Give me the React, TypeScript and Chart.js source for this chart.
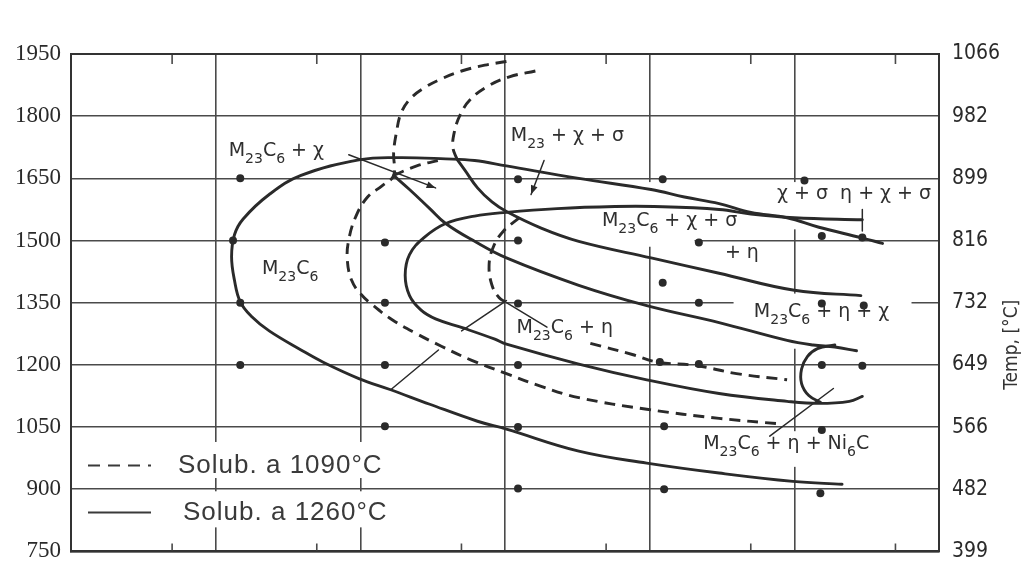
import React, { useEffect, useRef } from "react";
import { Chart, registerables } from "chart.js";

Chart.register(...registerables);

type Pt = [number, number];

// ---- axes -------------------------------------------------------------
// x: log10(time) in decades (grid only, unlabelled); y: temperature in °F (left) / °C (right)
const timeDecades = [0, 1, 2, 3, 4, 5, 6];
const tempTicksF = [750, 900, 1050, 1200, 1350, 1500, 1650, 1800, 1950];
const tempTicksC = [399, 482, 566, 649, 732, 816, 899, 982, 1066];

// ---- solid curves (Solub. a 1260°C) -------------------------------------
const curveM23C6: Pt[] = [
  [5.61, 1493], [5.46, 1507], [5.17, 1532], [4.95, 1555], [4.7, 1568], [4.48, 1589],
  [4.24, 1605], [4.01, 1623], [3.51, 1650], [3.01, 1680], [2.79, 1693], [2.59, 1697],
  [2.26, 1700], [2.0, 1695], [1.59, 1657], [1.37, 1611], [1.19, 1552], [1.13, 1514],
  [1.11, 1461], [1.13, 1404], [1.17, 1352], [1.25, 1316], [1.37, 1282], [1.59, 1236],
  [1.74, 1207], [1.99, 1167], [2.21, 1140], [2.48, 1105], [2.81, 1064], [3.01, 1045],
  [3.51, 992], [3.98, 963], [4.48, 939], [4.99, 919], [5.33, 912],
];
const curveChiSigma: Pt[] = [
  [5.47, 1550], [5.0, 1555], [4.7, 1564], [4.48, 1575], [4.03, 1582], [3.76, 1582],
  [3.36, 1577], [3.01, 1568], [2.79, 1559], [2.59, 1541], [2.44, 1507], [2.34, 1466],
  [2.31, 1416], [2.34, 1367], [2.42, 1332], [2.52, 1311], [2.71, 1289], [2.93, 1262],
  [3.01, 1250], [3.51, 1202], [3.98, 1164], [4.48, 1131], [4.95, 1112], [5.17, 1107],
  [5.38, 1112], [5.47, 1124],
];
const curveSigmaEta: Pt[] = [
  [2.67, 1695], [2.72, 1671], [2.81, 1627], [2.91, 1593], [3.01, 1570], [3.25, 1530],
  [3.51, 1498], [4.01, 1458], [4.48, 1421], [5.0, 1380], [5.46, 1367],
];
const curveEtaChi: Pt[] = [
  [2.23, 1657], [2.34, 1623], [2.48, 1577], [2.59, 1541], [2.79, 1498], [3.01, 1458],
  [3.51, 1392], [3.98, 1343], [4.48, 1302], [4.95, 1259], [5.13, 1248], [5.28, 1243],
  [5.43, 1234],
];
const curveNi6C: Pt[] = [
  [5.28, 1248], [5.16, 1239], [5.09, 1220], [5.05, 1190], [5.05, 1155], [5.1, 1126], [5.18, 1110],
];

// ---- dashed curves (Solub. a 1090°C) ------------------------------------
const dashOuter: Pt[] = [
  [3.01, 1932], [2.86, 1923], [2.7, 1909], [2.56, 1890], [2.44, 1868], [2.34, 1840],
  [2.28, 1806], [2.25, 1762], [2.23, 1712], [2.23, 1657], [2.15, 1632], [2.05, 1605],
  [1.97, 1559], [1.92, 1502], [1.91, 1453], [1.94, 1404], [2.0, 1372], [2.09, 1343],
  [2.22, 1309], [2.39, 1275], [2.56, 1245], [2.77, 1211], [3.01, 1179], [3.25, 1148],
  [3.51, 1121], [3.98, 1093], [4.48, 1071], [4.92, 1057],
];
const dashInner: Pt[] = [
  [3.21, 1909], [3.03, 1895], [2.88, 1872], [2.76, 1840], [2.69, 1803], [2.65, 1762],
  [2.64, 1724], [2.67, 1695],
];
const dashSpur: Pt[] = [[2.23, 1657], [2.39, 1680], [2.56, 1695]];
const dashEtaUpper: Pt[] = [
  [3.1, 1555], [2.99, 1523], [2.92, 1485], [2.89, 1441], [2.91, 1392], [2.96, 1362], [3.01, 1350],
];
const dashEtaLower: Pt[] = [
  [3.59, 1252], [3.88, 1225], [4.05, 1207], [4.33, 1198], [4.6, 1179], [4.95, 1164],
];

// ---- thin tie lines / pointers -----------------------------------------
const tieLow: Pt[] = [[2.21, 1140], [2.54, 1236]];
const tieMid: Pt[] = [[2.7, 1282], [3.01, 1355]];
const pointerEta: Pt[] = [[3.01, 1350], [3.29, 1291]];
const pointerSigma: Pt[] = [[3.27, 1693], [3.18, 1611]];
const pointerNi: Pt[] = [[4.83, 1028], [5.27, 1143]];
const pointerChi: Pt[] = [[1.92, 1707], [2.52, 1627]];
const crossMark: Pt[] = [[5.47, 1575], [5.47, 1523]];

// ---- experimental points -----------------------------------------------
const samplePoints: Pt[] = [
  [1.17, 1650], [3.09, 1648], [4.09, 1648], [5.07, 1645],
  [1.12, 1500], [2.17, 1495], [3.09, 1500], [4.34, 1495], [5.19, 1511], [5.47, 1507],
  [4.09, 1398],
  [1.17, 1350], [2.17, 1350], [3.09, 1348], [4.34, 1350], [5.19, 1348], [5.48, 1343],
  [1.17, 1200], [2.17, 1200], [3.09, 1200], [4.07, 1207], [4.34, 1202], [5.19, 1200], [5.47, 1198],
  [2.17, 1052], [3.09, 1050], [4.1, 1052], [5.19, 1043],
  [3.09, 902], [4.1, 900], [5.18, 890],
];

// ---- region labels (x decade, y °F, segments: [text, subscript?]) -------
type Seg = [string, number?];
const regionLabels: { x: number; y: number; segs: Seg[] }[] = [
  { x: 1.09, y: 1717, segs: [["M"], ["23", 1], ["C"], ["6", 1], [" + χ"]] },
  { x: 1.32, y: 1431, segs: [["M"], ["23", 1], ["C"], ["6", 1]] },
  { x: 3.04, y: 1752, segs: [["M"], ["23", 1], [" + χ + σ"]] },
  { x: 3.67, y: 1548, segs: [["M"], ["23", 1], ["C"], ["6", 1], [" + χ + σ"]] },
  { x: 4.52, y: 1470, segs: [["+ η"]] },
  { x: 4.88, y: 1611, segs: [["χ + σ  η + χ + σ"]] },
  { x: 3.08, y: 1289, segs: [["M"], ["23", 1], ["C"], ["6", 1], [" + η"]] },
  { x: 4.72, y: 1327, segs: [["M"], ["23", 1], ["C"], ["6", 1], [" + η + χ"]] },
  { x: 4.37, y: 1009, segs: [["M"], ["23", 1], ["C"], ["6", 1], [" + η + Ni"], ["6", 1], ["C"]] },
];

// areas where the original grid is interrupted by lettering [x0, x1, y0, y1]
const gridGaps: [number, number, number, number][] = [
  [3.12, 4.31, 1514, 1485],
  [3.96, 4.04, 1641, 1490],
  [4.58, 5.81, 1367, 1334],
  [4.96, 5.04, 1372, 1239],
  [4.96, 5.04, 1641, 1527],
  [4.96, 5.04, 1040, 954],
  [0.014, 2.24, 1014, 927],
  [0.014, 2.24, 895, 808],
];

const legendItems = [
  { text: "Solub. a 1090°C", dashed: true },
  { text: "Solub. a 1260°C", dashed: false },
];

const INK = "#2a2a2a";
const GRID = "#4a4a4a";
const fToC = (f: number) => ((f - 32) * 5) / 9;

const toXY = (pts: Pt[]) => pts.map(([x, y]) => ({ x, y }));
const solid = (pts: Pt[]) => ({
  data: toXY(pts),
  showLine: true,
  borderColor: INK,
  borderWidth: 2.9,
  pointRadius: 0,
  tension: 0.4,
  fill: false,
  borderCapStyle: "round" as const,
});
const dashed = (pts: Pt[]) => ({ ...solid(pts), borderDash: [11, 7], borderCapStyle: "butt" as const });
const thin = (pts: Pt[]) => ({ ...solid(pts), borderWidth: 1.5, tension: 0 });

function drawRich(ctx: CanvasRenderingContext2D, x: number, y: number, segs: Seg[], size: number) {
  let cx = x;
  for (const [t, sub] of segs) {
    const fs = sub ? Math.round(size * 0.74) : size;
    ctx.font = `${fs}px "DejaVu Sans", sans-serif`;
    ctx.fillText(t, cx, sub ? y + size * 0.45 : y);
    cx += ctx.measureText(t).width;
  }
}

function arrowHead(ctx: CanvasRenderingContext2D, x0: number, y0: number, x1: number, y1: number) {
  const a = Math.atan2(y1 - y0, x1 - x0);
  const len = 9;
  const w = 3.5;
  ctx.beginPath();
  ctx.moveTo(x1, y1);
  ctx.lineTo(x1 - len * Math.cos(a) + w * Math.sin(a), y1 - len * Math.sin(a) - w * Math.cos(a));
  ctx.lineTo(x1 - len * Math.cos(a) - w * Math.sin(a), y1 - len * Math.sin(a) + w * Math.cos(a));
  ctx.closePath();
  ctx.fill();
}

const decor = {
  id: "decor",
  beforeDraw(chart: any) {
    const { ctx, width, height } = chart;
    ctx.save();
    ctx.fillStyle = "#ffffff";
    ctx.fillRect(0, 0, width, height);
    ctx.restore();
  },
  beforeDatasetsDraw(chart: any) {
    const { ctx, chartArea: a } = chart;
    const xs = chart.scales.x;
    const ys = chart.scales.y;
    ctx.save();
    ctx.fillStyle = "#ffffff";
    for (const [x0, x1, y0, y1] of gridGaps) {
      const px0 = xs.getPixelForValue(x0);
      const px1 = xs.getPixelForValue(x1);
      const py0 = ys.getPixelForValue(y0);
      const py1 = ys.getPixelForValue(y1);
      ctx.fillRect(Math.min(px0, px1), Math.min(py0, py1), Math.abs(px1 - px0), Math.abs(py1 - py0));
    }
    ctx.strokeStyle = GRID;
    ctx.lineWidth = 1.6;
    for (const d of timeDecades.slice(0, -1)) {
      const px = xs.getPixelForValue(d + Math.log10(5));
      ctx.beginPath();
      ctx.moveTo(px, a.top);
      ctx.lineTo(px, a.top + 10);
      ctx.moveTo(px, a.bottom);
      ctx.lineTo(px, a.bottom - 8);
      ctx.stroke();
    }
    ctx.restore();
  },
  afterDatasetsDraw(chart: any) {
    const { ctx, chartArea: a } = chart;
    const xs = chart.scales.x;
    const ys = chart.scales.y;
    ctx.save();
    ctx.fillStyle = "#2f2f2f";
    ctx.textBaseline = "middle";
    ctx.textAlign = "left";
    for (const l of regionLabels) {
      drawRich(ctx, xs.getPixelForValue(l.x), ys.getPixelForValue(l.y), l.segs, 19);
    }
    // arrowheads on pointers
    ctx.fillStyle = INK;
    for (const p of [pointerSigma, pointerChi]) {
      arrowHead(
        ctx,
        xs.getPixelForValue(p[0][0]), ys.getPixelForValue(p[0][1]),
        xs.getPixelForValue(p[1][0]), ys.getPixelForValue(p[1][1])
      );
    }
    // legend
    const rows = [a.bottom - 86, a.bottom - 39];
    legendItems.forEach((it, i) => {
      const yy = rows[i];
      ctx.strokeStyle = "#3a3a3a";
      ctx.lineWidth = 2;
      ctx.setLineDash(it.dashed ? [12, 8] : []);
      ctx.beginPath();
      ctx.moveTo(a.left + 17, yy);
      ctx.lineTo(a.left + 80, yy);
      ctx.stroke();
      ctx.setLineDash([]);
      ctx.fillStyle = "#3a3a3a";
      ctx.font = '26px "Liberation Sans", Arial, sans-serif';
      (ctx as any).letterSpacing = "1px";
      ctx.fillText(it.text, a.left + (it.dashed ? 107 : 112), yy);
      (ctx as any).letterSpacing = "0px";
    });
    ctx.restore();
  },
  afterDraw(chart: any) {
    const { ctx, chartArea: a } = chart;
    ctx.save();
    ctx.strokeStyle = "#333";
    ctx.lineWidth = 2;
    ctx.strokeRect(a.left, a.top, a.right - a.left, a.bottom - a.top);
    ctx.translate(a.right + 73, (a.top + a.bottom) / 2 + 42);
    ctx.rotate(-Math.PI / 2);
    ctx.fillStyle = "#333";
    ctx.textAlign = "center";
    ctx.textBaseline = "middle";
    ctx.font = '19px "Liberation Sans Narrow", "DejaVu Sans Condensed", "Liberation Sans", sans-serif';
    ctx.fillText("Temp, [°C]", 0, 0);
    ctx.restore();
  },
};

export default function App() {
  const ref = useRef<HTMLCanvasElement | null>(null);

  useEffect(() => {
    if (!ref.current) return;
    const chart = new Chart(ref.current, {
      type: "scatter",
      data: {
        datasets: [
          solid(curveM23C6),
          solid(curveChiSigma),
          solid(curveSigmaEta),
          solid(curveEtaChi),
          solid(curveNi6C),
          dashed(dashOuter),
          dashed(dashInner),
          dashed(dashSpur),
          dashed(dashEtaUpper),
          dashed(dashEtaLower),
          thin(tieLow),
          thin(tieMid),
          thin(pointerEta),
          thin(pointerSigma),
          thin(pointerNi),
          thin(pointerChi),
          thin(crossMark),
          {
            data: toXY(samplePoints),
            showLine: false,
            pointRadius: 4,
            pointBackgroundColor: INK,
            pointBorderWidth: 0,
          },
        ] as any,
      },
      options: {
        animation: false,
        responsive: false,
        events: [],
        layout: { padding: { top: 54, bottom: 19, left: 0, right: 0 } },
        plugins: { legend: { display: false }, tooltip: { enabled: false } },
        scales: {
          x: {
            type: "linear",
            min: timeDecades[0],
            max: timeDecades[timeDecades.length - 1],
            afterBuildTicks: (s: any) => {
              s.ticks = timeDecades.map((v) => ({ value: v }));
            },
            ticks: { display: false },
            grid: { color: GRID, lineWidth: 1.6, drawTicks: false },
            border: { display: true, color: "#333", width: 2 },
            afterFit: (s: any) => {
              s.height = 0;
            },
          },
          y: {
            position: "left",
            min: tempTicksF[0],
            max: tempTicksF[tempTicksF.length - 1],
            afterBuildTicks: (s: any) => {
              s.ticks = tempTicksF.map((v) => ({ value: v }));
            },
            ticks: {
              color: "#2a2a2a",
              padding: 10,
              font: { family: '"Liberation Serif", serif', size: 23 },
              callback: (_v: any, i: number) => String(tempTicksF[i]),
            },
            grid: { color: GRID, lineWidth: 1.6, drawTicks: false },
            border: { display: true, color: "#333", width: 2 },
            afterFit: (s: any) => {
              s.width = 71;
            },
          },
          y2: {
            position: "right",
            min: fToC(tempTicksF[0]),
            max: fToC(tempTicksF[tempTicksF.length - 1]),
            afterBuildTicks: (s: any) => {
              s.ticks = tempTicksF.map((f) => ({ value: fToC(f) }));
            },
            ticks: {
              color: "#2a2a2a",
              padding: 13,
              font: { family: '"Liberation Sans Narrow", "DejaVu Sans Condensed", "Liberation Sans", sans-serif', size: 21 },
              callback: (_v: any, i: number) => String(tempTicksC[i]),
            },
            grid: { display: false, drawTicks: false },
            border: { display: false },
            afterFit: (s: any) => {
              s.width = 87;
            },
          },
        },
      },
      plugins: [decor],
    } as any);
    return () => chart.destroy();
  }, []);

  return (
    <div style={{ position: "absolute", left: 0, top: 0, width: 1026, height: 577, background: "#fff" }}>
      <canvas ref={ref} width={1026} height={577} style={{ display: "block" }} />
    </div>
  );
}
